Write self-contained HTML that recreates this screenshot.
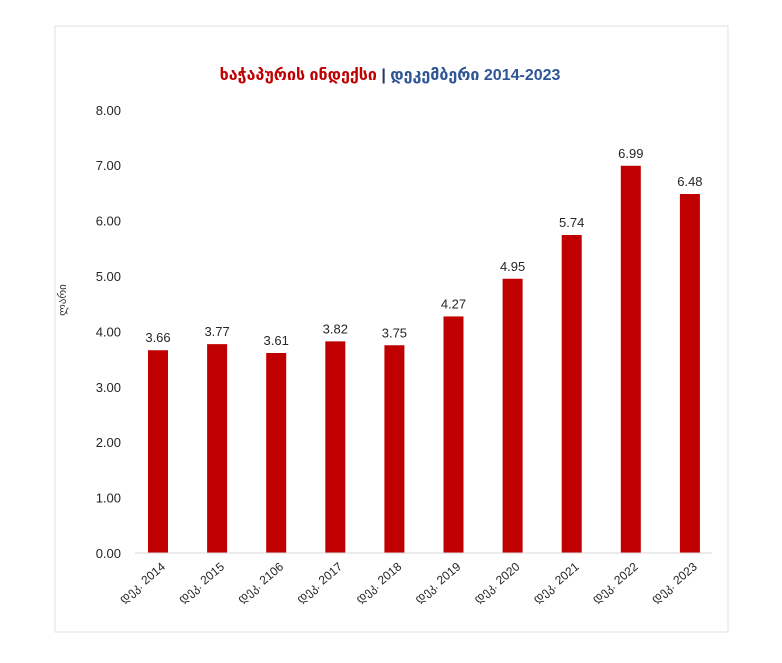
<!DOCTYPE html>
<html><head><meta charset="utf-8"><style>
body{margin:0;background:#fff;width:782px;height:658px;overflow:hidden}
svg{font-family:"Liberation Sans","DejaVu Sans",sans-serif}
</style></head><body>
<svg width="782" height="658">
<rect x="55" y="26" width="673" height="606" fill="none" stroke="#e2e2e2"/>
<text x="390" y="80" text-anchor="middle" font-size="16" font-weight="bold"><tspan fill="#c00000">ხაჭაპურის ინდექსი</tspan><tspan fill="#1f3864"> | </tspan><tspan fill="#2f5597">დეკემბერი 2014-2023</tspan></text>
<text transform="translate(66,300) rotate(-90)" text-anchor="middle" font-size="11" fill="#333">ლარი</text>
<g id="yaxis"></g><g id="bars"></g><g id="xlabels"></g>
<line x1="135" y1="553" x2="712" y2="553" stroke="#d9d9d9"/>
</svg>
<script>
const categories=["დეკ. 2014","დეკ. 2015","დეკ. 2106","დეკ. 2017","დეკ. 2018","დეკ. 2019","დეკ. 2020","დეკ. 2021","დეკ. 2022","დეკ. 2023"];
const values=[3.66,3.77,3.61,3.82,3.75,4.27,4.95,5.74,6.99,6.48];
const yTicks=[0,1,2,3,4,5,6,7,8];
const NS="http://www.w3.org/2000/svg";
function y(v){return 553-v*55.4;}
function x(i){return 158+i*59.1;}
function mk(t,a,p){const e=document.createElementNS(NS,t);for(const k in a)e.setAttribute(k,a[k]);p.appendChild(e);return e;}
const ya=document.getElementById('yaxis'),bg=document.getElementById('bars'),xl=document.getElementById('xlabels');
yTicks.forEach(t=>{const e=mk('text',{x:121,y:y(t)+5,'text-anchor':'end','font-size':'13',fill:'#262626'},ya);e.textContent=t.toFixed(2);

});
values.forEach((v,i)=>{const r=mk('rect',{x:x(i)-10,y:y(v),width:20,height:553-y(v),fill:'#c00000'},bg);


const l=mk('text',{x:x(i),y:y(v)-8,'text-anchor':'middle','font-size':'13',fill:'#262626'},bg);l.textContent=v.toFixed(2);


const c=mk('text',{transform:`translate(${x(i)+8},${568}) rotate(-40)`,'text-anchor':'end','font-size':'12',fill:'#262626'},xl);c.textContent=categories[i];

});
</script>
</body></html>
